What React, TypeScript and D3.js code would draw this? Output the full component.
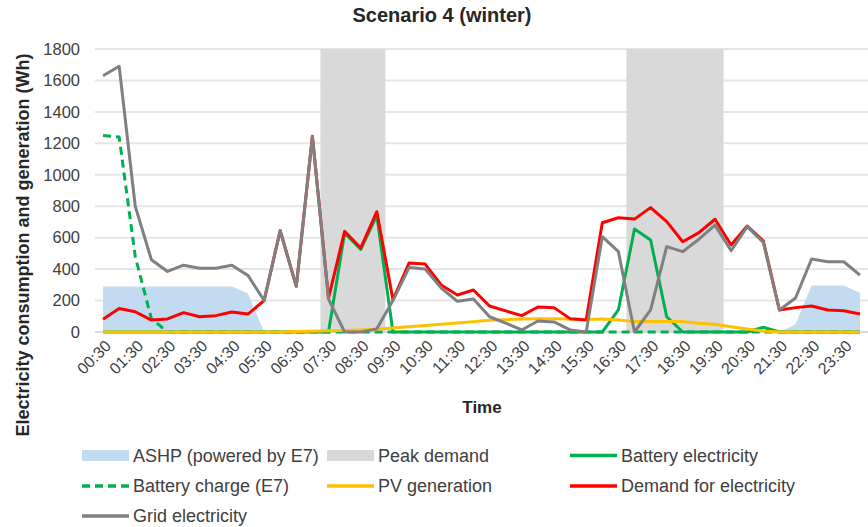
import React from "react";
import * as d3 from "d3";

const times = [
  "00:30", "01:00", "01:30", "02:00", "02:30", "03:00", "03:30", "04:00",
  "04:30", "05:00", "05:30", "06:00", "06:30", "07:00", "07:30", "08:00",
  "08:30", "09:00", "09:30", "10:00", "10:30", "11:00", "11:30", "12:00",
  "12:30", "13:00", "13:30", "14:00", "14:30", "15:00", "15:30", "16:00",
  "16:30", "17:00", "17:30", "18:00", "18:30", "19:00", "19:30", "20:00",
  "20:30", "21:00", "21:30", "22:00", "22:30", "23:00", "23:30", "00:00",
];

const ashp = [
  290, 290, 290, 290, 290, 290, 290, 290, 290, 245, 0, 0, 0, 0, 0, 0,
  0, 0, 0, 0, 0, 0, 0, 0, 0, 0, 0, 0, 0, 0, 0, 0,
  0, 0, 0, 0, 0, 0, 0, 0, 0, 0, 0, 50, 295, 295, 295, 250,
];

const peakDemand = [
  0, 0, 0, 0, 0, 0, 0, 0, 0, 0, 0, 0, 0, 0, 1800, 1800,
  1800, 1800, 0, 0, 0, 0, 0, 0, 0, 0, 0, 0, 0, 0, 0, 0,
  0, 1800, 1800, 1800, 1800, 1800, 1800, 0, 0, 0, 0, 0, 0, 0, 0, 0,
];

const batteryElectricity = [
  0, 0, 0, 0, 0, 0, 0, 0, 0, 0, 0, 0, 0, 0, 0, 630,
  525, 740, 0, 0, 0, 0, 0, 0, 0, 0, 0, 0, 0, 0, 0, 0,
  140, 655, 585, 97, 0, 0, 0, 0, 0, 30, 0, 0, 0, 0, 0, 0,
];

const batteryCharge = [
  1250, 1240, 480, 85, 0, 0, 0, 0, 0, 0, 0, 0, 0, 0, 0, 0,
  0, 0, 0, 0, 0, 0, 0, 0, 0, 0, 0, 0, 0, 0, 0, 0,
  0, 0, 0, 0, 0, 0, 0, 0, 0, 0, 0, 0, 0, 0, 0, 0,
];

const pvGeneration = [
  0, 0, 0, 0, 0, 0, 0, 0, 0, 0, 0, 0, 3, 5, 8, 10,
  13, 17, 25, 34, 42, 49, 57, 66, 74, 78, 83, 85, 85, 83, 80, 83,
  76, 66, 66, 66, 66, 55, 49, 34, 19, 6, 0, 0, 0, 0, 0, 0,
];

const demand = [
  81, 150, 129, 76, 83, 123, 97, 104, 127, 114, 200, 645, 290, 1245, 215, 640,
  534, 765, 205, 439, 432, 299, 235, 267, 165, 134, 104, 159, 155, 85, 76, 695,
  727, 718, 791, 702, 574, 632, 717, 553, 674, 579, 140, 155, 165, 140, 135, 115,
];

const grid = [
  1630, 1690, 800, 460, 385, 425, 405, 405, 425, 360, 200, 645, 290, 1245, 210, 0,
  0, 20, 200, 410, 400, 280, 195, 210, 97, 57, 13, 70, 64, 13, 0, 606,
  511, 0, 140, 543, 511, 590, 680, 517, 670, 570, 140, 216, 464, 447, 447, 362,
];

const yTicks = [0, 200, 400, 600, 800, 1000, 1200, 1400, 1600, 1800];

const FONT = "'Liberation Sans', Arial, sans-serif";
const TEXT = "#404040";

export default function App() {
  const W = 868;
  const H = 527;
  const left = 95;
  const right = 868;
  const top = 49;
  const bottom = 332;

  const idx = times.map((_, i) => i);
  const x = d3.scaleBand<number>().domain(idx).range([left, right]).padding(0);
  const bw = x.bandwidth();
  const cx = (i: number) => (x(i) as number) + bw / 2;
  const y = d3.scaleLinear().domain([0, 1800]).range([bottom, top]);

  const line = d3
    .line<number>()
    .x((_, i) => cx(i))
    .y((d) => y(d));
  const area = d3
    .area<number>()
    .x((_, i) => cx(i))
    .y0(y(0))
    .y1((d) => y(d));

  const legendItems = [
    { label: "ASHP (powered by E7)", type: "rect", color: "#c3dbf0", x: 82, y: 455.5 },
    { label: "Peak demand", type: "rect", color: "#d9d9d9", x: 327, y: 455.5 },
    { label: "Battery electricity", type: "line", color: "#00b050", x: 570, y: 455.5 },
    { label: "Battery charge (E7)", type: "dash", color: "#00b050", x: 82, y: 486 },
    { label: "PV generation", type: "line", color: "#ffc000", x: 327, y: 486 },
    { label: "Demand for electricity", type: "line", color: "#ff0000", x: 570, y: 486 },
    { label: "Grid electricity", type: "line", color: "#808080", x: 82, y: 516 },
  ];

  return (
    <svg
      width={W}
      height={H}
      style={{ position: "absolute", left: 0, top: 0, background: "#fff" }}
      fontFamily={FONT}
    >
      <rect x={0} y={0} width={W} height={H} fill="#fff" />
      <text x={442} y={22} textAnchor="middle" fontSize={20} fontWeight="bold" fill="#262626">
        Scenario 4 (winter)
      </text>

      {yTicks.map((t) => (
        <line
          key={"g" + t}
          x1={left}
          x2={right}
          y1={y(t)}
          y2={y(t)}
          stroke={t === 0 ? "#d9d9d9" : "#e6e6e6"}
          strokeWidth={2}
        />
      ))}

      <path d={area(ashp) || ""} fill="#c3dbf0" />

      {peakDemand.map((v, i) =>
        v > 0 ? (
          <rect
            key={"p" + i}
            x={x(i) as number}
            y={y(v)}
            width={bw + 0.5}
            height={y(0) - y(v)}
            fill="#d9d9d9"
          />
        ) : null
      )}

      <path d={line(batteryElectricity) || ""} fill="none" stroke="#00b050" strokeWidth={3} strokeLinejoin="round" />
      <path
        d={line(batteryCharge) || ""}
        fill="none"
        stroke="#00b050"
        strokeWidth={3}
        strokeDasharray="8,5"
        strokeLinejoin="round"
      />
      <path d={line(pvGeneration) || ""} fill="none" stroke="#ffc000" strokeWidth={3} strokeLinejoin="round" />
      <path d={line(demand) || ""} fill="none" stroke="#ff0000" strokeWidth={3} strokeLinejoin="round" />
      <path d={line(grid) || ""} fill="none" stroke="#808080" strokeWidth={3} strokeLinejoin="round" />

      {yTicks.map((t) => (
        <text
          key={"yt" + t}
          x={80}
          y={y(t)}
          dy="0.35em"
          textAnchor="end"
          fontSize={16.5}
          fill={TEXT}
        >
          {t}
        </text>
      ))}

      {times.map((t, i) =>
        i % 2 === 0 ? (
          <text
            key={"xt" + i}
            transform={`translate(${cx(i) + 5},${343}) rotate(-45)`}
            textAnchor="end"
            dy="0.35em"
            fontSize={16}
            fill={TEXT}
          >
            {t}
          </text>
        ) : null
      )}

      <text x={482} y={413} textAnchor="middle" fontSize={17} fontWeight="bold" fill="#262626">
        Time
      </text>
      <text
        transform={`translate(23,245) rotate(-90)`}
        textAnchor="middle"
        dy="0.35em"
        fontSize={18}
        fontWeight="bold"
        fill="#262626"
      >
        Electricity consumption and generation (Wh)
      </text>

      {legendItems.map((it) => (
        <g key={it.label}>
          {it.type === "rect" ? (
            <rect x={it.x} y={it.y - 5.5} width={47} height={11} fill={it.color} />
          ) : (
            <line
              x1={it.x}
              x2={it.x + 47}
              y1={it.y}
              y2={it.y}
              stroke={it.color}
              strokeWidth={3.5}
              strokeDasharray={it.type === "dash" ? "8,5" : undefined}
            />
          )}
          <text x={it.x + 51} y={it.y} dy="0.35em" fontSize={18} fill={TEXT}>
            {it.label}
          </text>
        </g>
      ))}
    </svg>
  );
}
